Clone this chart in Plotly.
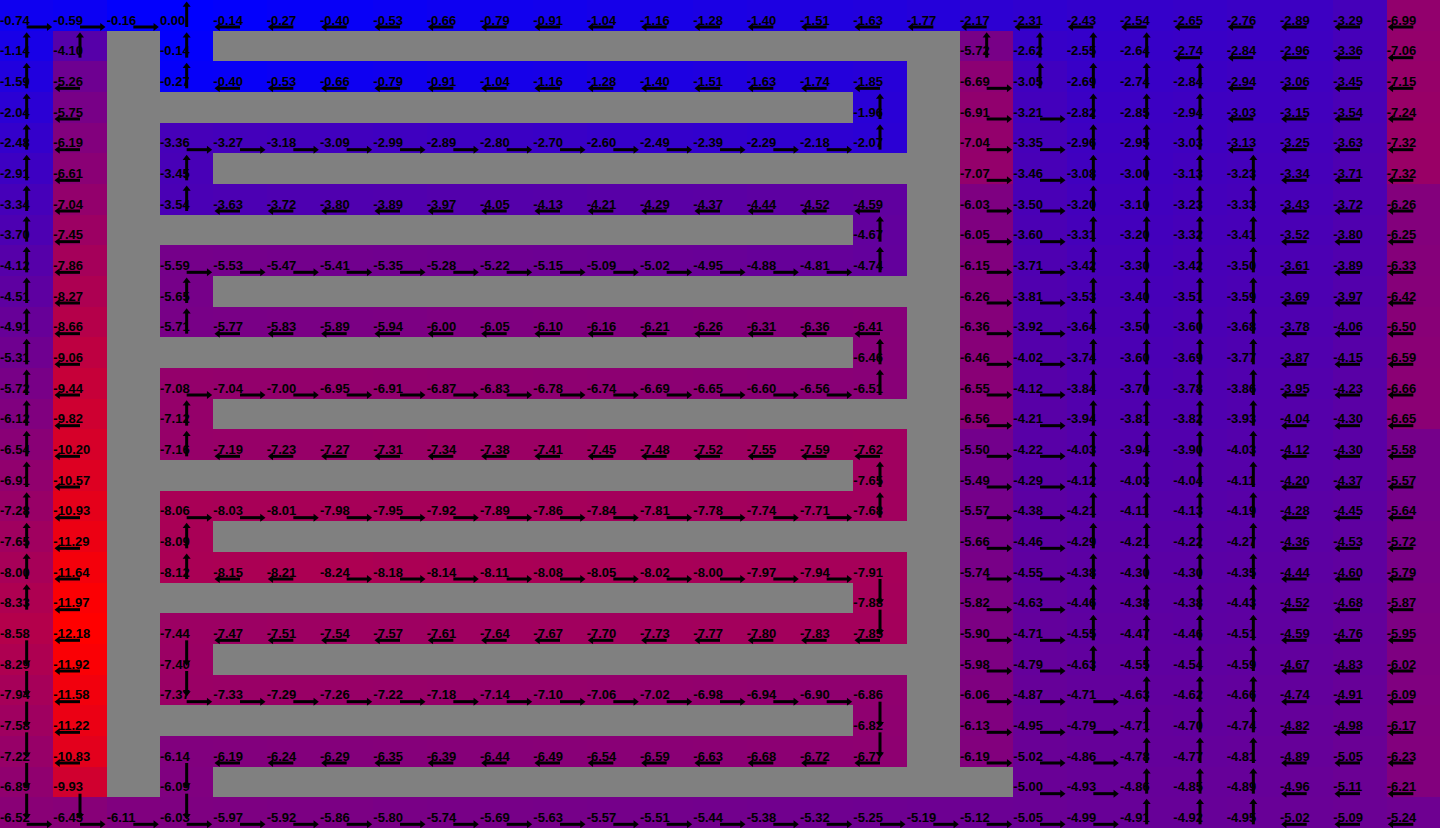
import plotly.graph_objects as go

W = None  # wall cell

# ---- state values, one list per grid row (27 columns each) ----
r00 = [-0.74, -0.59, -0.16, 0.00, -0.14, -0.27, -0.40, -0.53, -0.66, -0.79, -0.91, -1.04, -1.16, -1.28, -1.40, -1.51, -1.63, -1.77, -2.17, -2.31, -2.43, -2.54, -2.65, -2.76, -2.89, -3.29, -6.99]
r01 = [-1.14, -4.10, W, -0.14] + [W] * 14 + [-5.72, -2.62, -2.55, -2.64, -2.74, -2.84, -2.96, -3.36, -7.06]
r02 = [-1.59, -5.26, W, -0.27, -0.40, -0.53, -0.66, -0.79, -0.91, -1.04, -1.16, -1.28, -1.40, -1.51, -1.63, -1.74, -1.85, W, -6.69, -3.05, -2.69, -2.74, -2.84, -2.94, -3.06, -3.45, -7.15]
r03 = [-2.04, -5.75] + [W] * 14 + [-1.96, W, -6.91, -3.21, -2.82, -2.85, -2.94, -3.03, -3.15, -3.54, -7.24]
r04 = [-2.48, -6.19, W, -3.36, -3.27, -3.18, -3.09, -2.99, -2.89, -2.80, -2.70, -2.60, -2.49, -2.39, -2.29, -2.18, -2.07, W, -7.04, -3.35, -2.96, -2.95, -3.03, -3.13, -3.25, -3.63, -7.32]
r05 = [-2.91, -6.61, W, -3.45] + [W] * 14 + [-7.07, -3.46, -3.08, -3.00, -3.13, -3.23, -3.34, -3.71, -7.32]
r06 = [-3.34, -7.04, W, -3.54, -3.63, -3.72, -3.80, -3.89, -3.97, -4.05, -4.13, -4.21, -4.29, -4.37, -4.44, -4.52, -4.59, W, -6.03, -3.50, -3.20, -3.10, -3.23, -3.33, -3.43, -3.72, -6.26]
r07 = [-3.70, -7.45] + [W] * 14 + [-4.67, W, -6.05, -3.60, -3.31, -3.20, -3.32, -3.41, -3.52, -3.80, -6.25]
r08 = [-4.12, -7.86, W, -5.59, -5.53, -5.47, -5.41, -5.35, -5.28, -5.22, -5.15, -5.09, -5.02, -4.95, -4.88, -4.81, -4.74, W, -6.15, -3.71, -3.42, -3.30, -3.42, -3.50, -3.61, -3.89, -6.33]
r09 = [-4.51, -8.27, W, -5.65] + [W] * 14 + [-6.26, -3.81, -3.53, -3.40, -3.51, -3.59, -3.69, -3.97, -6.42]
r10 = [-4.91, -8.66, W, -5.71, -5.77, -5.83, -5.89, -5.94, -6.00, -6.05, -6.10, -6.16, -6.21, -6.26, -6.31, -6.36, -6.41, W, -6.36, -3.92, -3.64, -3.50, -3.60, -3.68, -3.78, -4.06, -6.50]
r11 = [-5.31, -9.06] + [W] * 14 + [-6.46, W, -6.46, -4.02, -3.74, -3.60, -3.69, -3.77, -3.87, -4.15, -6.59]
r12 = [-5.72, -9.44, W, -7.08, -7.04, -7.00, -6.95, -6.91, -6.87, -6.83, -6.78, -6.74, -6.69, -6.65, -6.60, -6.56, -6.51, W, -6.55, -4.12, -3.84, -3.70, -3.78, -3.86, -3.95, -4.23, -6.66]
r13 = [-6.12, -9.82, W, -7.12] + [W] * 14 + [-6.56, -4.21, -3.94, -3.81, -3.82, -3.93, -4.04, -4.30, -6.65]
r14 = [-6.54, -10.20, W, -7.16, -7.19, -7.23, -7.27, -7.31, -7.34, -7.38, -7.41, -7.45, -7.48, -7.52, -7.55, -7.59, -7.62, W, -5.50, -4.22, -4.03, -3.94, -3.90, -4.03, -4.12, -4.30, -5.58]
r15 = [-6.91, -10.57] + [W] * 14 + [-7.65, W, -5.49, -4.29, -4.12, -4.03, -4.04, -4.11, -4.20, -4.37, -5.57]
r16 = [-7.28, -10.93, W, -8.06, -8.03, -8.01, -7.98, -7.95, -7.92, -7.89, -7.86, -7.84, -7.81, -7.78, -7.74, -7.71, -7.68, W, -5.57, -4.38, -4.21, -4.11, -4.13, -4.19, -4.28, -4.45, -5.64]
r17 = [-7.65, -11.29, W, -8.09] + [W] * 14 + [-5.66, -4.46, -4.29, -4.21, -4.22, -4.27, -4.36, -4.53, -5.72]
r18 = [-8.00, -11.64, W, -8.12, -8.15, -8.21, -8.24, -8.18, -8.14, -8.11, -8.08, -8.05, -8.02, -8.00, -7.97, -7.94, -7.91, W, -5.74, -4.55, -4.38, -4.30, -4.30, -4.35, -4.44, -4.60, -5.79]
r19 = [-8.33, -11.97] + [W] * 14 + [-7.88, W, -5.82, -4.63, -4.46, -4.38, -4.38, -4.43, -4.52, -4.68, -5.87]
r20 = [-8.58, -12.18, W, -7.44, -7.47, -7.51, -7.54, -7.57, -7.61, -7.64, -7.67, -7.70, -7.73, -7.77, -7.80, -7.83, -7.85, W, -5.90, -4.71, -4.55, -4.47, -4.46, -4.51, -4.59, -4.76, -5.95]
r21 = [-8.29, -11.92, W, -7.40] + [W] * 14 + [-5.98, -4.79, -4.63, -4.55, -4.54, -4.59, -4.67, -4.83, -6.02]
r22 = [-7.94, -11.58, W, -7.37, -7.33, -7.29, -7.26, -7.22, -7.18, -7.14, -7.10, -7.06, -7.02, -6.98, -6.94, -6.90, -6.86, W, -6.06, -4.87, -4.71, -4.63, -4.62, -4.66, -4.74, -4.91, -6.09]
r23 = [-7.58, -11.22] + [W] * 14 + [-6.82, W, -6.13, -4.95, -4.79, -4.71, -4.70, -4.74, -4.82, -4.98, -6.17]
r24 = [-7.22, -10.83, W, -6.14, -6.19, -6.24, -6.29, -6.35, -6.39, -6.44, -6.49, -6.54, -6.59, -6.63, -6.68, -6.72, -6.77, W, -6.19, -5.02, -4.86, -4.78, -4.77, -4.81, -4.89, -5.05, -6.23]
r25 = [-6.89, -9.93, W, -6.09] + [W] * 15 + [-5.00, -4.93, -4.86, -4.85, -4.89, -4.96, -5.11, -6.21]
r26 = [-6.52, -6.45, -6.11, -6.03, -5.97, -5.92, -5.86, -5.80, -5.74, -5.69, -5.63, -5.57, -5.51, -5.44, -5.38, -5.32, -5.25, -5.19, -5.12, -5.05, -4.99, -4.91, -4.92, -4.95, -5.02, -5.09, -5.24]

# ---- greedy policy per row: U/D/L/R, '#' = wall ----
p00 = "RRRU" + "L" * 14 + "L" * 9
p01 = "UU#U" + "#" * 14 + "UUUULLLLL"
p02 = "UL#U" + "L" * 13 + "#" + "RUUUULLLL"
p03 = "UL" + "#" * 14 + "U#" + "RRUUULLLL"
p04 = "UL#" + "R" * 13 + "U#" + "RRUUULLLL"
p05 = "UL#U" + "#" * 14 + "RRUUUULLL"
p06 = "UL#U" + "L" * 13 + "#" + "RRUUUULLL"
p07 = "UL" + "#" * 14 + "U#" + "RRUUUULLL"
p08 = "UL#" + "R" * 13 + "U#" + "RRUUUULLL"
p09 = "UL#U" + "#" * 14 + "RRUUUULLL"
p10 = "UL#U" + "L" * 13 + "#" + "RRUUUULLL"
p11 = "UL" + "#" * 14 + "U#" + "RRUUUULLL"
p12 = "UL#" + "R" * 13 + "U#" + "RRUUUULLL"
p13 = "UL#U" + "#" * 14 + "RRUUUULLL"
p14 = "UL#U" + "L" * 13 + "#" + "RRUUUULLL"
p15 = "UL" + "#" * 14 + "U#" + "RRUUUULLL"
p16 = "UL#" + "R" * 13 + "U#" + "RRUUUULLL"
p17 = "UL#U" + "#" * 14 + "RRUUUULLL"
p18 = "UL#U" + "LL" + "R" * 10 + "D#" + "RRUUUULLL"
p19 = "UL" + "#" * 14 + "D#" + "RRUUUULLL"
p20 = "DL#D" + "L" * 13 + "#" + "RRUUUULLL"
p21 = "DL#D" + "#" * 14 + "RRUUUULLL"
p22 = "DL#" + "R" * 13 + "D#" + "RRRUUULLL"
p23 = "DL" + "#" * 14 + "D#" + "RRRUUULLL"
p24 = "DL#D" + "L" * 13 + "#" + "RRRUUULLL"
p25 = "DD#D" + "#" * 15 + "RRUUULLL"
p26 = "R" * 21 + "UUU" + "LLL"

values = [r00, r01, r02, r03, r04, r05, r06, r07, r08, r09, r10, r11, r12, r13,
          r14, r15, r16, r17, r18, r19, r20, r21, r22, r23, r24, r25, r26]
policy = [p00, p01, p02, p03, p04, p05, p06, p07, p08, p09, p10, p11, p12, p13,
          p14, p15, p16, p17, p18, p19, p20, p21, p22, p23, p24, p25, p26]

NR = len(values)
NC = len(values[0])
WIDTH, HEIGHT = 1440, 828
CW = WIDTH / NC
CH = HEIGHT / NR

flat = [v for row in values for v in row if v is not None]
vmin, vmax = min(flat), max(flat)

fig = go.Figure()

fig.add_trace(go.Heatmap(
    z=values,
    x=[c + 0.5 for c in range(NC)],
    y=[r + 0.5 for r in range(NR)],
    colorscale=[[0, "rgb(255,0,0)"], [1, "rgb(0,0,255)"]],
    zmin=vmin, zmax=vmax,
    showscale=False, hoverinfo="skip",
))

# value labels
tx, ty, tt = [], [], []
for r in range(NR):
    for c in range(NC):
        v = values[r][c]
        if v is None:
            continue
        tx.append(c + 0.0005)
        ty.append(r + 21.5 / CH)
        tt.append(f"{v:.2f}")
fig.add_trace(go.Scatter(
    x=tx, y=ty, text=tt, mode="text", textposition="middle right",
    textfont=dict(family="Liberation Sans", size=13, color="black", weight="bold"),
    hoverinfo="skip", cliponaxis=False,
))

# policy arrows
DIRS = {"R": (1, 0), "L": (-1, 0), "U": (0, -1), "D": (0, 1)}
SYM = {"R": "triangle-right", "L": "triangle-left", "U": "triangle-up", "D": "triangle-down"}
ARROW_LEN = 25.5
HEAD_R = 3.5
lx, ly = [], []
heads = {k: ([], []) for k in DIRS}
for r in range(NR):
    for c in range(NC):
        p = policy[r][c]
        if p not in DIRS:
            continue
        dx, dy = DIRS[p]
        x0 = c + 0.5
        y0 = r + 27.0 / CH
        tipx = x0 + dx * ARROW_LEN / CW
        tipy = y0 + dy * ARROW_LEN / CH
        hx = tipx - dx * HEAD_R / CW
        hy = tipy - dy * HEAD_R / CH
        lx += [x0, hx, None]
        ly += [y0, hy, None]
        heads[p][0].append(hx)
        heads[p][1].append(hy)

fig.add_trace(go.Scatter(x=lx, y=ly, mode="lines", line=dict(color="black", width=3),
                         hoverinfo="skip"))
for k, (hx, hy) in heads.items():
    fig.add_trace(go.Scatter(x=hx, y=hy, mode="markers",
                             marker=dict(symbol=SYM[k], size=7, color="black", line=dict(width=0)),
                             hoverinfo="skip"))

fig.update_layout(
    width=WIDTH, height=HEIGHT,
    margin=dict(l=0, r=0, t=0, b=0),
    plot_bgcolor="#808080", paper_bgcolor="#808080",
    showlegend=False,
    xaxis=dict(range=[0, NC], visible=False, fixedrange=True),
    yaxis=dict(range=[NR, 0], visible=False, fixedrange=True),
)

fig.write_html("out.html")
